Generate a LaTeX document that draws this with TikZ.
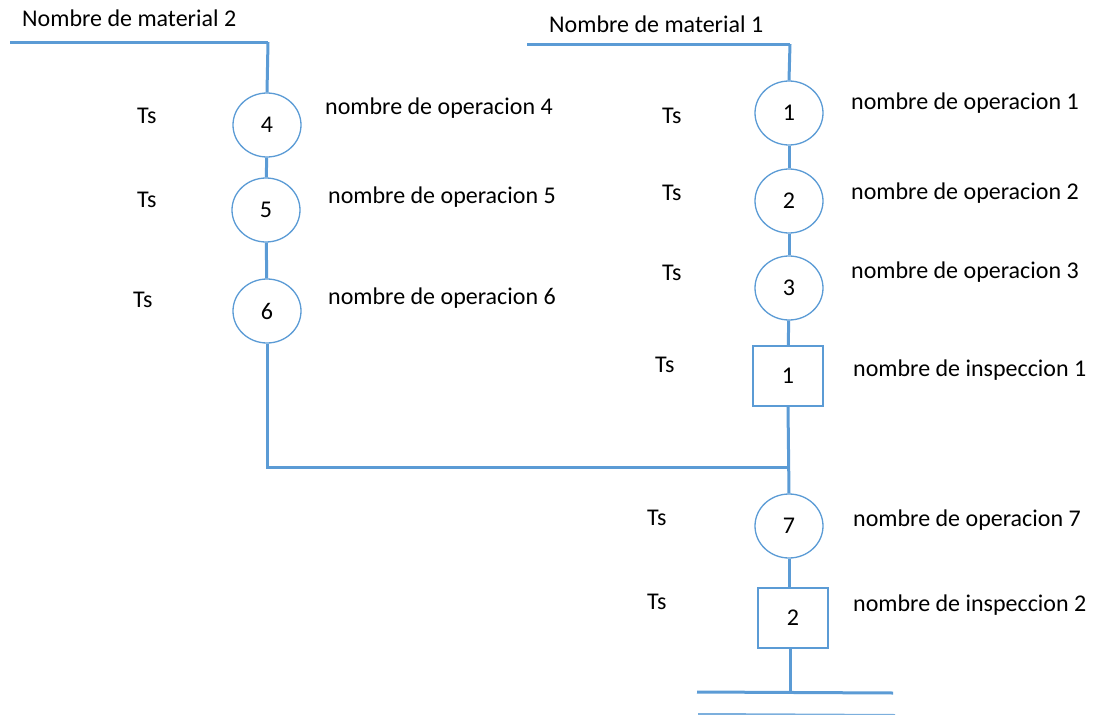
\documentclass[tikz,border=0pt]{standalone}
\usepackage{fontspec}
\setmainfont{Carlito}
\usetikzlibrary{shapes.geometric}
\definecolor{lnblue}{RGB}{91,155,213}
\begin{document}
\begin{tikzpicture}[x=1pt,y=-1pt,
  op/.style={ellipse,draw=lnblue,line width=1.3pt,minimum width=68pt,minimum height=64pt,inner sep=0pt,font=\fontsize{24}{28}\selectfont},
  insp/.style={rectangle,draw=lnblue,line width=1.3pt,minimum width=70pt,minimum height=60pt,inner sep=0pt,font=\fontsize{24}{28}\selectfont},
  conn/.style={draw=lnblue,line width=3pt},
  lbl/.style={anchor=west,inner sep=0pt,font=\fontsize{24}{28}\selectfont}]
\useasboundingbox (0,0) rectangle (1096,715);
% left column
\node[lbl] (m2) at (22,18) {Nombre de material 2};
\coordinate (l0) at (10,42);
\coordinate (l1) at (268,42);
\node[op] (o4) at (267,125) {4};
\node[op] (o5) at (266,210) {5};
\node[op] (o6) at (267,311) {6};
\coordinate (lj) at (267,466);
% right column
\node[lbl] (m1) at (549,24) {Nombre de material 1};
\coordinate (r0) at (527,44);
\coordinate (r1) at (790,44);
\node[op] (o1) at (789,113) {1};
\node[op] (o2) at (789,201) {2};
\node[op] (o3) at (789,288) {3};
\node[insp] (i1) at (788,376) {1};
\coordinate (rj) at (789,467);
\node[op] (o7) at (789,526) {7};
\node[insp] (i2) at (793,618) {2};
\coordinate (b0) at (697,692);
\coordinate (b1) at (893,693);
\coordinate (bc) at (790,692);
\coordinate (c0) at (698,714);
\coordinate (c1) at (895,715);
% connectors
\draw[conn] (l0) -- (l1);
\draw[conn] (l1) -- (o4.north);
\draw[conn] (o4) -- (o5);
\draw[conn] (o5) -- (o6);
\draw[conn] (o6.south) |- (rj);
\draw[conn] (r0) -- (r1);
\draw[conn] (r1) -- (o1.north);
\draw[conn] (o1) -- (o2);
\draw[conn] (o2) -- (o3);
\draw[conn] (o3) -- (i1);
\draw[conn] (i1.south) -- (o7.north);
\draw[conn] (o7.south) -- (o7.south |- i2.north);
\draw[conn] (bc |- i2.south) -- (bc);
\draw[conn] (b0) -- (b1);
\draw[draw=lnblue!80,line width=2pt] (c0) -- (c1);
% Ts labels
\node[lbl] (t4) at (137,116) {Ts};
\node[lbl] (t5) at (137,200) {Ts};
\node[lbl] (t6) at (133,300) {Ts};
\node[lbl] (t1) at (662,116) {Ts};
\node[lbl] (t2) at (662,193) {Ts};
\node[lbl] (t3) at (662,273) {Ts};
\node[lbl] (ti1) at (655,365) {Ts};
\node[lbl] (t7) at (647,518) {Ts};
\node[lbl] (ti2) at (647,602) {Ts};
% names
\node[lbl] (n4) at (325,108) {nombre de operacion 4};
\node[lbl] (n5) at (328,197) {nombre de operacion 5};
\node[lbl] (n6) at (328,298) {nombre de operacion 6};
\node[lbl] (n1) at (851,103) {nombre de operacion 1};
\node[lbl] (n2) at (851,193) {nombre de operacion 2};
\node[lbl] (n3) at (851,272) {nombre de operacion 3};
\node[lbl] (ni1) at (853,370) {nombre de inspeccion 1};
\node[lbl] (n7) at (853,520) {nombre de operacion 7};
\node[lbl] (ni2) at (853,605) {nombre de inspeccion 2};
\end{tikzpicture}
\end{document}
